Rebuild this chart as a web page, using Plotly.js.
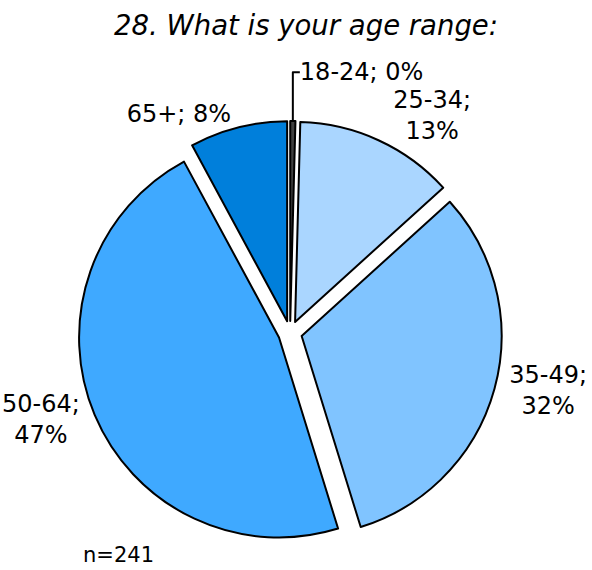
<!DOCTYPE html>
<html>
<head>
<meta charset="utf-8">
<script src="https://cdn.plot.ly/plotly-3.0.1.min.js"></script>
<style>
  body { margin: 0; background: #fff; }
  #chart { width: 592px; height: 570px; }
</style>
</head>
<body>
<div id="chart"></div>
<script>
// age ranges, respondent counts (n=241) and shown percentages
const ageLabels = ["18-24", "25-34", "35-49", "50-64", "65+"];
const ageCounts = [1, 31, 77, 113, 19];
const agePercent = ["0%", "13%", "32%", "47%", "8%"];
const sliceColors = ["#404040", "#aad6ff", "#80c4ff", "#3fa9ff", "#007fdb"];
const labelText = ["18-24; 0%", "25-34;<br>13%", "35-49;<br>32%", "50-64;<br>47%", "65+; 8%"];

const pie = {
  type: "pie",
  labels: ageLabels,
  values: ageCounts,
  text: labelText,
  textinfo: "text",
  textposition: "outside",
  sort: false,
  direction: "clockwise",
  rotation: 0,
  pull: 0.06,
  marker: {
    colors: sliceColors,
    line: { color: "#000", width: 2 }
  },
  textfont: { family: "DejaVu Sans", size: 24, color: "#000" },
  domain: { x: [0.132, 0.848], y: [0.044, 0.788] },
  hoverinfo: "label+percent"
};

Plotly.newPlot("chart", [pie], {
  width: 592,
  height: 570,
  margin: { l: 0, r: 0, t: 0, b: 0 },
  showlegend: false,
  paper_bgcolor: "#fff",
  title: {
    text: "<i>28. What is your age range:</i>",
    font: { family: "DejaVu Sans", size: 27.5, color: "#000" },
    x: 0.517,
    xanchor: "center",
    y: 0.955,
    yanchor: "middle"
  },
  annotations: [{
    text: "n=241",
    x: 0.2,
    y: 0.026,
    xref: "paper",
    yref: "paper",
    xanchor: "center",
    yanchor: "middle",
    showarrow: false,
    font: { family: "DejaVu Sans", size: 21, color: "#000" }
  }]
}, { displayModeBar: false });
</script>
</body>
</html>
